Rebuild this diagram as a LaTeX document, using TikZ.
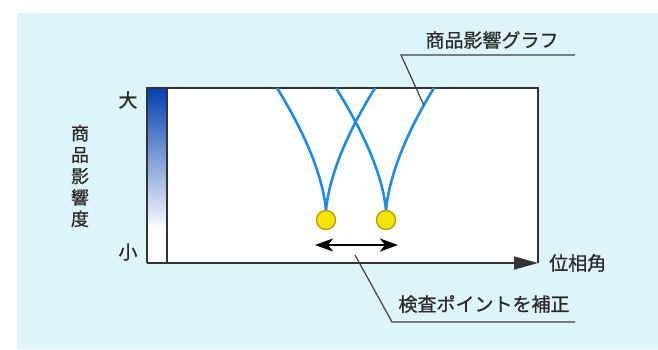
\documentclass[tikz,border=0pt]{standalone}
\usepackage{fontspec}
\newfontfamily\cjk[FakeBold=0.7]{Noto Sans CJK JP}
\usetikzlibrary{arrows.meta}
\definecolor{bgblue}{HTML}{DDF4FA}
\definecolor{curveblue}{HTML}{1E8CE0}
\definecolor{gradblue}{HTML}{0040B0}
\definecolor{framegray}{HTML}{333333}
\definecolor{leadergray}{HTML}{404040}
\definecolor{dotfill}{HTML}{F5E600}
\definecolor{dotedge}{HTML}{B89E00}
\definecolor{textgray}{HTML}{2A2A2A}
\begin{document}
\begin{tikzpicture}[x=1pt,y=-1pt,
  lbl/.style={font=\cjk\fontsize{19}{21}\selectfont, text=textgray, inner sep=0pt},
  frame/.style={draw=framegray, line width=1.5pt},
  curve/.style={draw=curveblue, line width=2.6pt},
  leader/.style={draw=leadergray, line width=1.2pt},
  dot/.style={circle, fill=dotfill, draw=dotedge, line width=1.4pt, minimum size=19pt, inner sep=0pt},
  dblarrow/.style={draw=black, line width=2.6pt, {Stealth[length=18pt,width=13pt,inset=5pt]}-{Stealth[length=18pt,width=13pt,inset=5pt]}}
]
\useasboundingbox (0,0) rectangle (658,349);
\fill[white] (0,0) rectangle (658,349);
\fill[bgblue] (17,13) rectangle (658,349);
% chart area
\fill[white] (147,88) rectangle (538,263);
\shade[top color=gradblue, middle color=gradblue!60!white, bottom color=white] (147,88) rectangle (167,230);
\draw[frame] (167,88) -- (167,263);
\draw[frame] (147,263) -- (147,88) -- (538,88) -- (538,263);
\coordinate (xstart) at (147,263);
\coordinate (xend) at (538,263);
\draw[frame, -{Triangle[length=24pt,width=13pt]}] (xstart) -- (xend);
% dots
\node[dot] (d1) at (326,220) {};
\node[dot] (d2) at (386,220) {};
% curve tops
\coordinate (t1) at (277,88);
\coordinate (t2) at (375,88);
\coordinate (t3) at (336,88);
\coordinate (t4) at (434,88);
\draw[curve] (t1) .. controls (300,125) and (322,170) .. (d1.north);
\draw[curve] (t2) .. controls (352,125) and (330,170) .. (d1.north);
\draw[curve] (t3) .. controls (359,125) and (382,170) .. (d2.north);
\draw[curve] (t4) .. controls (411,125) and (390,170) .. coordinate[pos=0.15] (g4) (d2.north);
% double arrow
\coordinate (al) at (315,245);
\coordinate (ar) at (398,245);
\draw[dblarrow] (al) -- (ar);
% labels
\node[lbl] (big) at (128,100) {大};
\node[lbl] (small) at (128,252) {小};
\node[lbl, align=center, font=\cjk\fontsize{18}{21.4}\selectfont] (vlab) at (80,176) {商\\品\\影\\響\\度};
\node[lbl, anchor=west] (phase) at (549,263) {位相角};
\node[lbl] (graphlbl) at (492,40) {商品影響グラフ};
\node[lbl] (insplbl) at (484,304) {検査ポイントを補正};
% leaders
\coordinate (gk) at (401,55);
\coordinate (ge) at (575,55);
\draw[leader] (g4) -- (gk) -- (ge);
\coordinate (is) at (355,255);
\coordinate (ik) at (392,322);
\coordinate (ie) at (575,322);
\draw[leader] (is) -- (ik) -- (ie);
\end{tikzpicture}
\end{document}
